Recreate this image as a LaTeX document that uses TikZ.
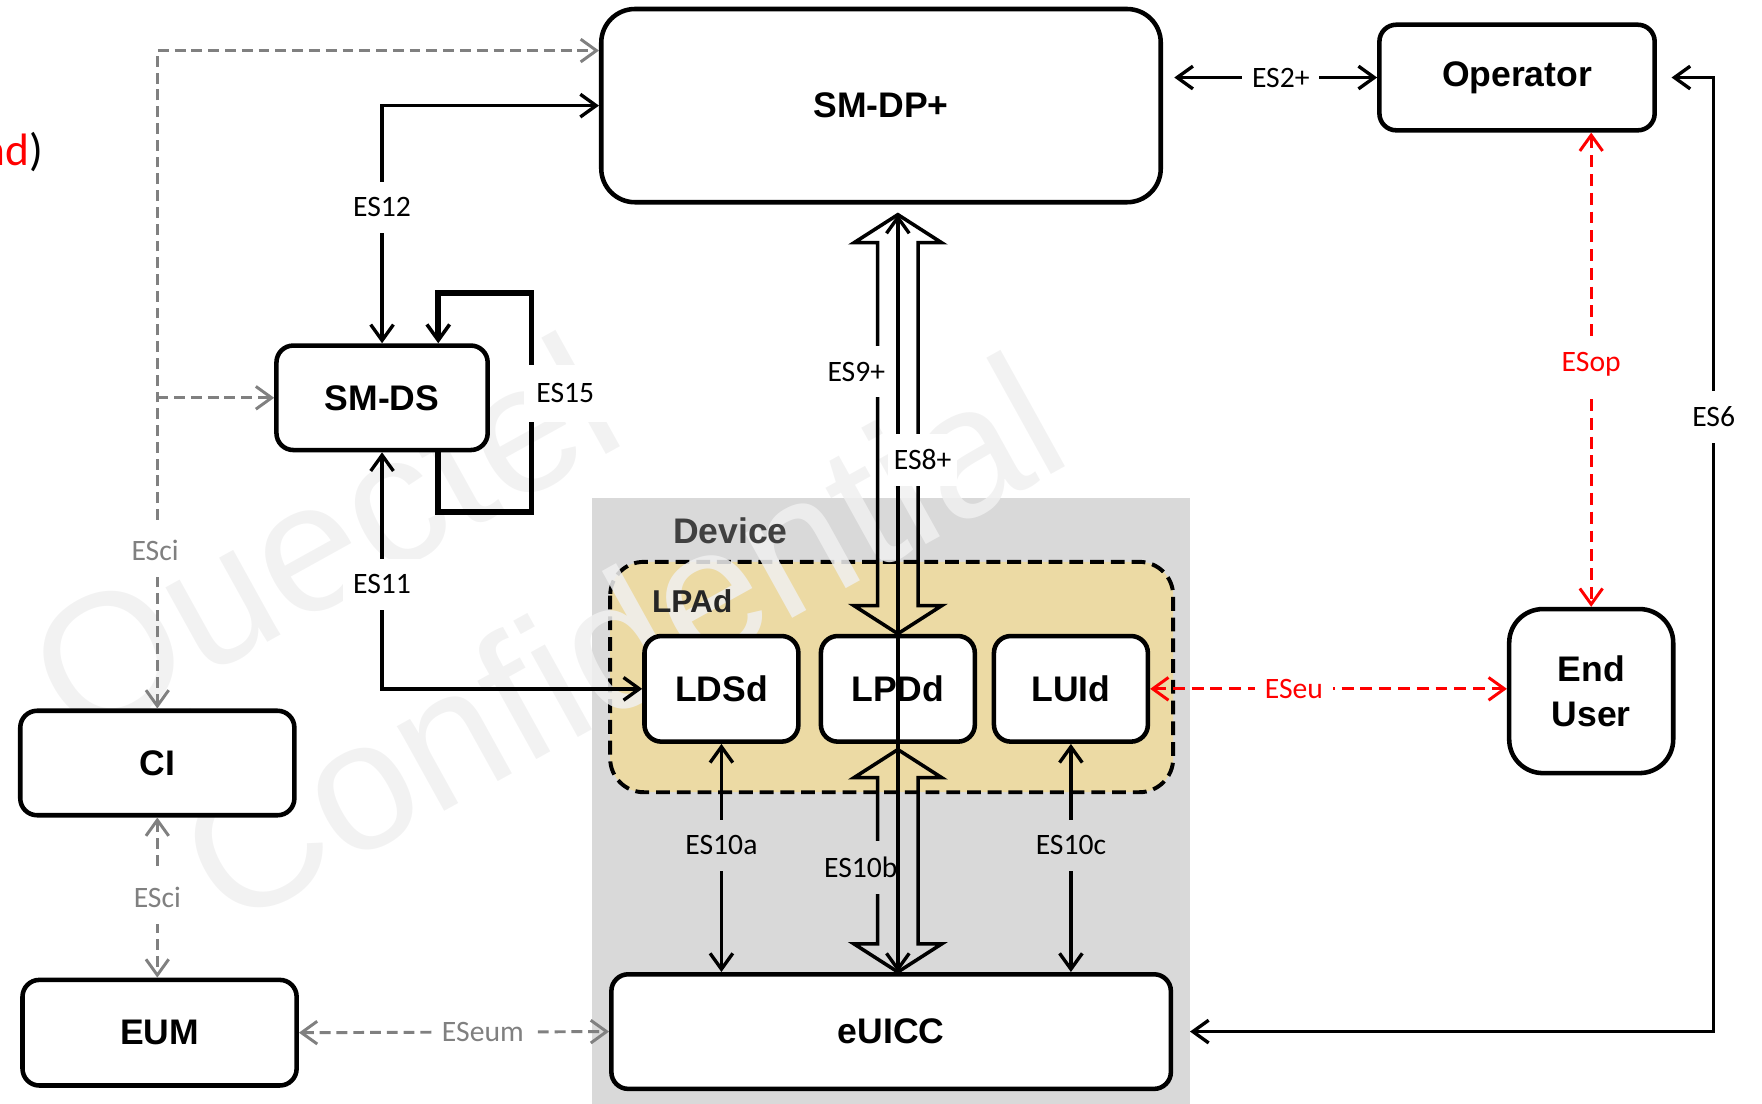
\documentclass[tikz,border=0pt]{standalone}
\usepackage{fontspec}
\setmainfont{Liberation Sans}
\newfontfamily\calib{Carlito}
\usetikzlibrary{arrows.meta,calc}
\definecolor{devgray}{HTML}{D9D9D9}
\definecolor{lpatan}{HTML}{ECDAA4}
\definecolor{dgray}{HTML}{808080}
\definecolor{devtxt}{HTML}{404040}
\definecolor{lpatxt}{HTML}{262626}
\newcommand\hollowarrow[2]{%
  \draw[hollow] ($(#1)+(-18,25)$) -- ($(#1)+(-39,25)$) -- (#1) -- ($(#1)+(39,25)$) -- ($(#1)+(18,25)$)
    -- ($(#2)+(18,-25)$) -- ($(#2)+(39,-25)$) -- (#2) -- ($(#2)+(-39,-25)$) -- ($(#2)+(-18,-25)$) -- cycle;}
\begin{document}
\begin{tikzpicture}[x=0.02cm,y=-0.02cm,
  >={Straight Barb[length=8pt,width=11.5pt]},
  box/.style={draw=black, line width=2.3pt, rounded corners=0.3cm, fill=white,
    font=\fontsize{18}{23}\selectfont\bfseries, align=center, inner sep=0pt},
  ln/.style={line width=1.7pt},
  loopln/.style={line width=3pt, >={Straight Barb[length=8pt,width=11.5pt,line width=1.8pt]}},
  gd/.style={draw=dgray, line width=1.5pt, dash pattern=on 5.5pt off 3pt},
  rd/.style={draw=red, line width=1.5pt, dash pattern=on 6pt off 3.5pt},
  lbl/.style={font=\calib\fontsize{15}{18}\selectfont, fill=white, inner xsep=5pt, inner ysep=8pt},
  hollow/.style={line width=1.8pt, line join=miter},
  wm/.style={font=\fontsize{93}{100}\selectfont, text=black!6, opacity=0.85, inner sep=0pt}
]
\useasboundingbox (0,0) rectangle (1568,982);
% device region
\fill[devgray] (527,443) rectangle (1059,990);
\draw[fill=lpatan, line width=2pt, dash pattern=on 7pt off 3.5pt, rounded corners=0.6cm] (543,500) rectangle (1044,705);
% watermark
\node[wm, rotate=29, anchor=base east] (wm1) at (562,392) {Quectel};
\node[wm, rotate=29, anchor=base east] (wm2) at (958,410) {Confidential};
% cut text
\node[anchor=base east, font=\calib\fontsize{23}{26}\selectfont, inner sep=0pt] (cut) at (39,147) {\textcolor{red}{nd})};
% labels of regions
\node[font=\fontsize{18}{23}\selectfont\bfseries, text=devtxt] (devlbl) at (650,472) {Device};
\node[font=\fontsize{16}{20}\selectfont\bfseries, text=lpatxt] (lpalbl) at (616,535) {LPAd};
% boxes
\node[box, rounded corners=0.6cm, minimum width=9.96cm, minimum height=3.44cm] (smdp) at (784,94) {SM-DP+};
\node[box, minimum width=4.9cm, minimum height=1.88cm] (op) at (1350,69) {Operator};
\node[box, minimum width=3.76cm, minimum height=1.86cm] (smds) at (340,354) {SM-DS};
\node[box, minimum width=4.88cm, minimum height=1.86cm] (ci) at (140,679) {CI};
\node[box, minimum width=4.88cm, minimum height=1.88cm] (eum) at (142,919) {EUM};
\node[box, minimum width=9.96cm, minimum height=2.04cm] (euicc) at (793,918) {eUICC};
\node[box, rounded corners=0.6cm, minimum width=2.92cm, minimum height=2.92cm] (eu) at (1416,615) {End\\User};
\node[box, minimum width=2.74cm, minimum height=1.88cm] (ldsd) at (642,613) {LDSd};
\node[box, minimum width=2.74cm, minimum height=1.88cm] (lpdd) at (799,613) {LPDd};
\node[box, minimum width=2.74cm, minimum height=1.88cm] (luid) at (953,613) {LUId};
% ES2+
\draw[ln,<->, shorten <=0.2cm] (smdp.east |- op.west) -- node[lbl, pos=0.55] (es2) {ES2+} (op.west);
% ES12
\draw[ln,<->] (smds.north) |- node[lbl, pos=0.286] (es12) {ES12} (smdp.west);
% ES11
\draw[ln,<->] (smds.south) |- node[lbl, pos=0.279] (es11) {ES11} (ldsd.west);
% ES15 loop
\draw[loopln,->] ($(smds.south)+(50,0)$) -- ++(0,53) -- ++(83,0) -- ++(0,-195) -- ++(-83,0) -- ($(smds.north)+(50,0)$);
\node[lbl, inner sep=0pt, minimum width=1.48cm, minimum height=1.02cm] (es15) at (503,350) {ES15};
% ESci
\coordinate (escitop) at (140,45);
\draw[gd,<->] (ci.north) -- (ci.north |- escitop) -- (smdp.west |- escitop);
\draw[gd,->] (ci.north |- smds.west) -- (smds.west);
\node[lbl, text=dgray] (esci1) at (138,490) {ESci};
\draw[gd,<->] (ci.south) -- node[lbl, text=dgray] (esci2) {ESci} (ci.south |- eum.north);
% ESeum
\draw[gd,<->] (eum.east) -- node[lbl, text=dgray, pos=0.593] (eseum) {ESeum} (euicc.west);
% ES6
\coordinate (es6x) at (1525,0);
\draw[ln,<->, shorten <=0.26cm, shorten >=0.3cm] (op.east) -- (es6x |- op.east) -- (es6x |- euicc.east) -- (euicc.east);
\node[lbl] (es6) at (1525,371) {ES6};
% ESop
\draw[rd,<->] (eu.north |- op.south) -- node[lbl, text=red, pos=0.488] (esop) {ESop} (eu.north);
% ESeu
\draw[rd,<->] (luid.east) -- node[lbl, text=red, pos=0.403] (eseu) {ESeu} (eu.west |- luid.east);
% ES10a / ES10c
\draw[ln,<->] (ldsd.south) -- node[lbl, fill=devgray, pos=0.444] (es10a) {ES10a} (ldsd.south |- euicc.north);
\draw[ln,<->] (luid.south) -- node[lbl, fill=devgray, pos=0.444] (es10c) {ES10c} (luid.south |- euicc.north);
% hollow arrows ES9+ and ES10b
\coordinate (a9t) at ($(lpdd.north |- smdp.south)+(0,9)$);
\coordinate (a9b) at (lpdd.north);
\coordinate (a10t) at ($(lpdd.south)+(0,5)$);
\coordinate (a10b) at (lpdd.south |- euicc.north);
\hollowarrow{a9t}{a9b}
\hollowarrow{a10t}{a10b}
\node[lbl, inner xsep=3pt] (es9) at (762,331) {ES9+};
\node[lbl, fill=devgray, inner xsep=1pt] (es10b) at (766,772) {ES10b};
% ES8+ centre line
\draw[ln,<->, shorten <=0.18cm] (lpdd.north |- smdp.south) -- (a10b);
\node[lbl, inner xsep=3pt] (es8) at (821,409) {ES8+};
\end{tikzpicture}
\end{document}
